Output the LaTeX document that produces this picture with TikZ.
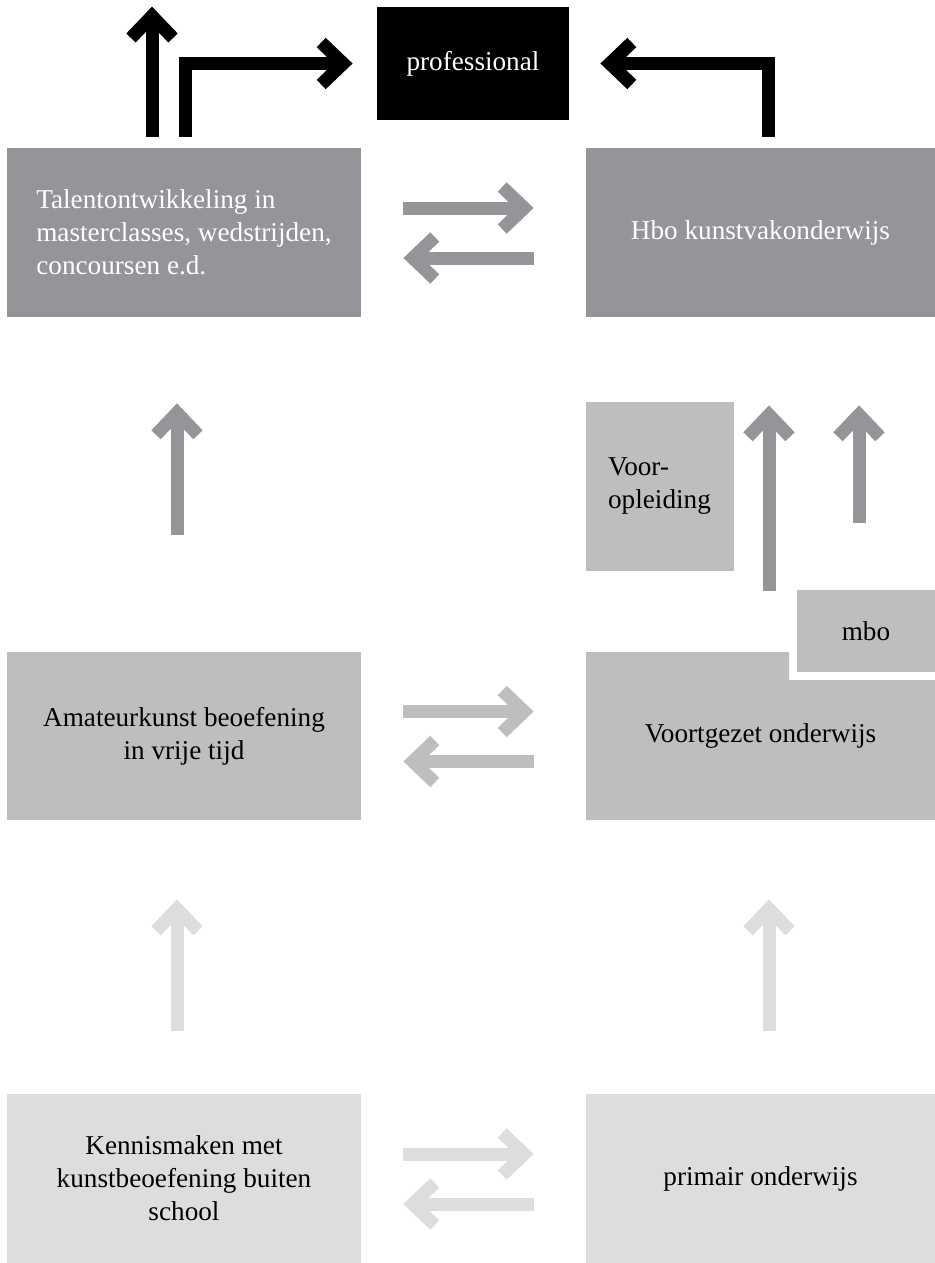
\documentclass[tikz,border=0pt]{standalone}
\usepackage{fontspec}
\setmainfont{Liberation Serif}
\usetikzlibrary{arrows.meta}
\definecolor{darkgr}{HTML}{939598}
\definecolor{midgr}{HTML}{BCBEC0}
\definecolor{lightgr}{HTML}{DCDDDE}
\tikzset{
  box/.style={rectangle, inner sep=0pt, align=center,
    font=\fontsize{13.6}{16.5}\selectfont},
  fat/.style={line width=6.5pt, line join=miter, ->}
}
\begin{document}
\begin{tikzpicture}[x=0.5pt, y=-0.5pt, >={Straight Barb[length=11pt,width=21pt]}]
	\useasboundingbox (0,0) rectangle (935,1263);
	%%%%%%%%%%%%%%%%%%%%%%%%%%%%%%%%%
	\node[box, fill=black, text=white, minimum width=96pt, minimum height=56.5pt] (prof) at (473,63.5) {professional};
	\node[box, fill=darkgr, text=white, minimum width=177pt, minimum height=84.5pt, align=left] (talent) at (184,232.5) {Talentontwikkeling in\\masterclasses, wedstrijden,\\concoursen e.d.};
	\node[box, fill=darkgr, text=white, minimum width=174.5pt, minimum height=84.5pt] (hbo) at (760.5,232.5) {Hbo kunstvakonderwijs};
	\node[box, fill=midgr, minimum width=74pt, minimum height=84.5pt, align=left] (voor) at (659.5,486.5) {Voor-\\opleiding};
	\node[box, fill=midgr, minimum width=69pt, minimum height=41pt] (mbo) at (866,631) {mbo};
	\fill[midgr] (586,652) -- (789,652) -- (789,680) -- (935,680) -- (935,820) -- (586,820) -- cycle;
	\node[box, minimum width=174.5pt, minimum height=84pt] (vo) at (760.5,736) {Voortgezet onderwijs};
	\node[box, fill=midgr, minimum width=177pt, minimum height=84pt] (amateur) at (184,736) {Amateurkunst beoefening\\in vrije tijd};
	\node[box, fill=lightgr, minimum width=177pt, minimum height=84.5pt] (kennis) at (184,1178.5) {Kennismaken met\\kunstbeoefening buiten\\school};
	\node[box, fill=lightgr, minimum width=174.5pt, minimum height=84.5pt] (po) at (760.5,1178.5) {primair onderwijs};
	%%%%%%%%%%%%%%%%%%%%%%%%%%%%%%%%%
	\draw[fat, shorten <=5.5pt] ([xshift=-16pt]talent.north) -- ([xshift=-16pt]talent.north |- prof.north);
	\draw[fat, shorten <=5.5pt, shorten >=12pt] ([xshift=0.5pt]talent.north) |- (prof.west);
	\draw[fat, shorten <=5.5pt, shorten >=15.5pt] ([xshift=3.75pt]hbo.north) |- (prof.east);
	%%%%%%%%%%%%%%%%%%%%%%%%%%%%%%%%%
	\foreach \a/\b/\c in {talent/hbo/darkgr, amateur/vo/midgr, kennis/po/lightgr} {
		\draw[fat, \c, shorten <=21pt, shorten >=26pt] ([yshift=12.25pt]\a.east) -- ([yshift=12.25pt]\b.west);
		\draw[fat, \c, shorten <=26pt, shorten >=21pt] ([yshift=-12.75pt]\b.west) -- ([yshift=-12.75pt]\a.east);
	}
	%%%%%%%%%%%%%%%%%%%%%%%%%%%%%%%%%
	\draw[fat, darkgr, shorten <=58.5pt, shorten >=43pt] ([xshift=-3.5pt]amateur.north) -- ([xshift=-3.5pt]talent.south);
	\draw[fat, darkgr, shorten <=30.5pt, shorten >=44pt] ([xshift=4.25pt]vo.north) -- ([xshift=4.25pt]hbo.south);
	\draw[fat, darkgr, shorten <=33.5pt, shorten >=44pt] ([xshift=-3.5pt]mbo.north) -- ([xshift=-3.5pt]mbo.north |- hbo.south);
	\draw[fat, lightgr, shorten <=31.5pt, shorten >=39.5pt] ([xshift=-3.5pt]kennis.north) -- ([xshift=-3.5pt]amateur.south);
	\draw[fat, lightgr, shorten <=31.5pt, shorten >=39.5pt] ([xshift=4.25pt]po.north) -- ([xshift=4.25pt]vo.south);
	%%%%%%%%%%%%%%%%%%%%%%%%%%%%%%%%%
\end{tikzpicture}
\end{document}
